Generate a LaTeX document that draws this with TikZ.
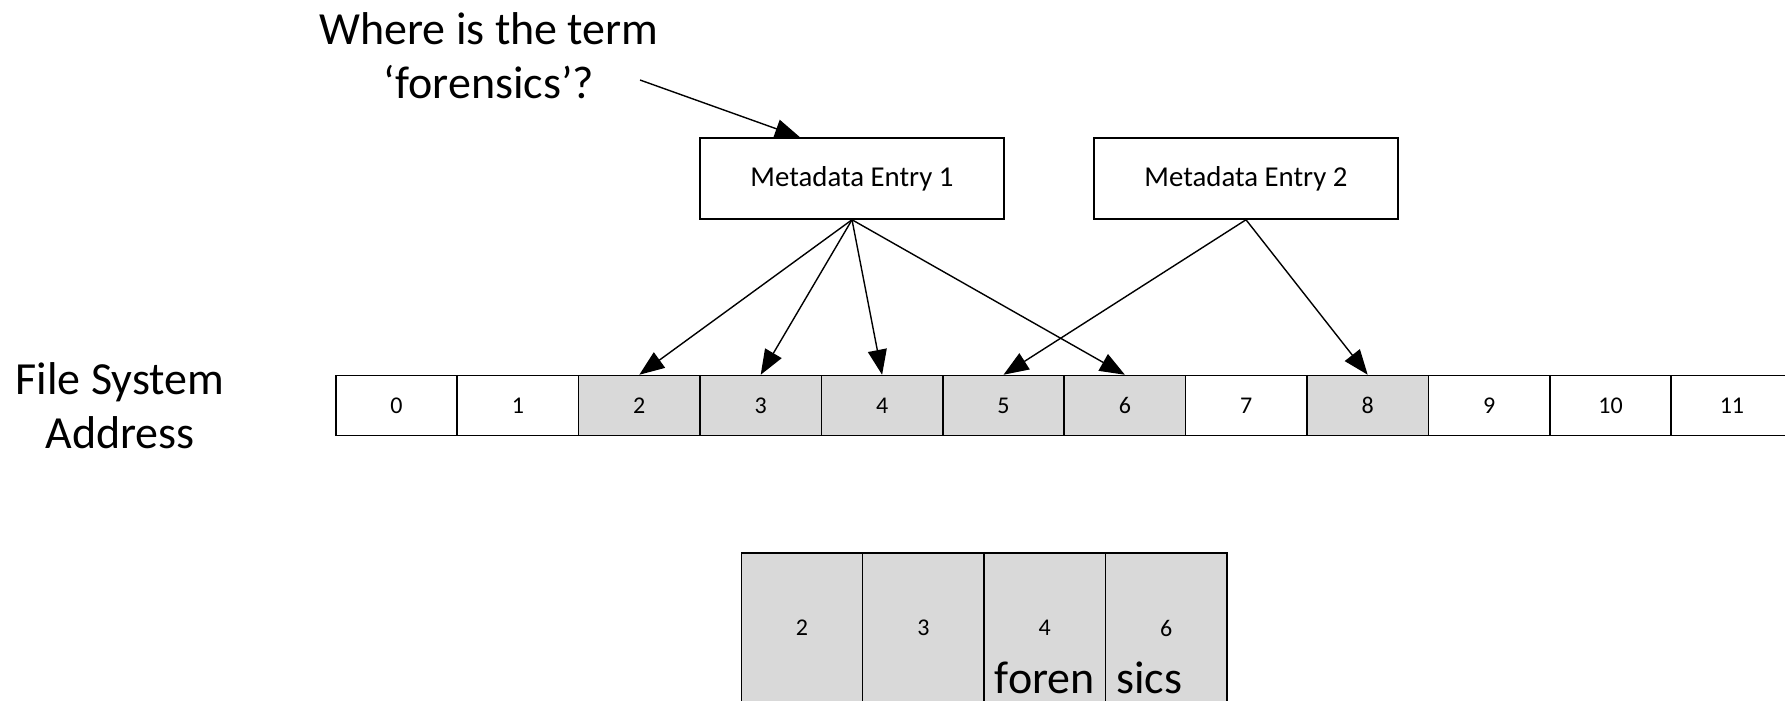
\documentclass[tikz,border=0pt]{standalone}
\usepackage{fontspec}
\setmainfont{Carlito}
\usepackage{xcolor}
\usepackage{tikz}
\usetikzlibrary{arrows.meta}
\definecolor{blockgray}{RGB}{217, 217, 217}

\begin{document}
\begin{tikzpicture}[x=1pt, y=-1pt,
  entry/.style = {rectangle, draw=black, fill=white, line width=1.5pt,
                  minimum width=304pt, minimum height=81pt,
                  font=\fontsize{28.8}{34}\selectfont},
  cell/.style  = {rectangle, draw=black, fill=white, line width=1.5pt,
                  minimum width=121.4pt, minimum height=60pt, inner sep=0pt,
                  font=\fontsize{24}{29}\selectfont},
  used/.style  = {cell, fill=blockgray},
  part/.style  = {used, minimum height=150pt},
  big/.style   = {font=\fontsize{46}{54}\selectfont, align=center, inner sep=0pt},
  arrow/.style = {-{Triangle[length=25pt, width=19pt]}, line width=1.4pt}
]
  \clip (0,0) rectangle (1785,701);

  % ---- Question ----
  \node[big] at (489, 56) (question) {Where is the term\\‘forensics’?};
  \coordinate (qtail) at (640, 80);

  % ---- Metadata entries ----
  \node[entry] at (852,  178.5) (entry1) {Metadata Entry 1};
  \node[entry] at (1246, 178.5) (entry2) {Metadata Entry 2};

  % ---- File system address row ----
  \node[big] at (120, 405.5) (fsaddr) {File System\\Address};
  \node[cell] at (396.5,  405.5) (a0)  {0};
  \node[cell] at (517.9,  405.5) (a1)  {1};
  \node[used] at (639.3,  405.5) (a2)  {2};
  \node[used] at (760.7,  405.5) (a3)  {3};
  \node[used] at (882.1,  405.5) (a4)  {4};
  \node[used] at (1003.5, 405.5) (a5)  {5};
  \node[used] at (1124.9, 405.5) (a6)  {6};
  \node[cell] at (1246.3, 405.5) (a7)  {7};
  \node[used] at (1367.7, 405.5) (a8)  {8};
  \node[cell] at (1489.1, 405.5) (a9)  {9};
  \node[cell] at (1610.5, 405.5) (a10) {10};
  \node[cell] at (1731.9, 405.5) (a11) {11};

  % ---- Reassembled blocks ----
  \node[part] at (802,    628) (b2) {2};
  \node[part] at (923.4,  628) (b3) {3};
  \node[part] at (1044.8, 628) (b4) {4};
  \node[part] at (1166.2, 628) (b6) {6};
  \node[big, anchor=base east] at (1095, 693) (foren) {foren};
  \node[big, anchor=base west] at (1116, 693) (sics)  {sics};

  % ---- Arrows ----
  \draw[arrow] (qtail) -- ([xshift=-52pt]entry1.north);
  \draw[arrow] (entry1.south) -- (a2.north);
  \draw[arrow] (entry1.south) -- (a3.north);
  \draw[arrow] (entry1.south) -- (a4.north);
  \draw[arrow] (entry1.south) -- (a6.north);
  \draw[arrow] (entry2.south) -- (a5.north);
  \draw[arrow] (entry2.south) -- (a8.north);
\end{tikzpicture}
\end{document}
